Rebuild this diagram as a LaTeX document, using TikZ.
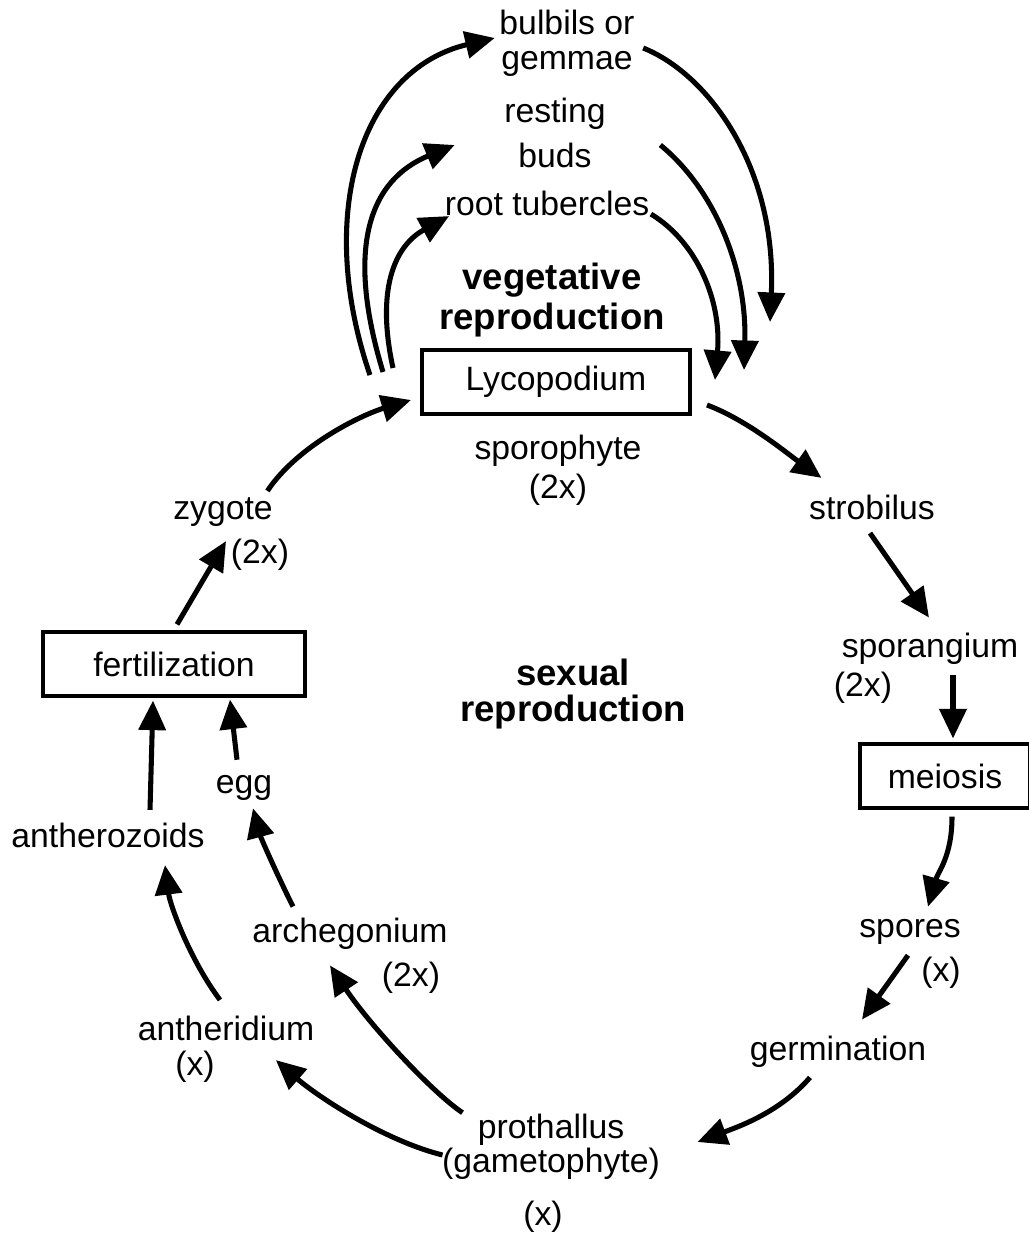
\documentclass[tikz,border=0pt]{standalone}
\usepackage{fontspec}
\setmainfont{Liberation Sans}
\usetikzlibrary{arrows.meta}

\tikzset{
  lbl/.style={inner sep=1pt, align=center, font=\fontsize{24}{28}\selectfont},
  heading/.style={inner sep=1pt, align=center, font=\bfseries\fontsize{26}{28}\selectfont},
  stagebox/.style={lbl, draw, line width=2.8pt, minimum height=1.58cm},
  cyc/.style={line width=3.6pt, -{Triangle[length=21pt,width=19pt]}},
}

\begin{document}
\begin{tikzpicture}[x=0.025cm,y=-0.025cm]
\useasboundingbox (0,0) rectangle (1029,1237);
%
\node[stagebox, minimum width=6.7cm] (lyco) at (556,382) {Lycopodium};
\node[lbl] (sporo) at (558,470) {sporophyte\\(2x)};
\node[lbl] (bulb) at (567,43) {bulbils or\\[-3pt]gemmae};
\node[lbl] (rest) at (555,133) {resting\\[4pt]buds};
\node[lbl] (root) at (547,203) {root tubercles};
\node[heading] (veg) at (552,300) {vegetative\\reproduction};
\node[heading] (sex) at (573,694) {sexual\\[-3pt]reproduction};
%
\node[lbl] (strob) at (872,507) {strobilus};
\node[lbl] (sporang) at (930,649) {sporangium};
\node[lbl] (sporangp) at (863,688) {(2x)};
\node[stagebox, minimum width=4.25cm] (meio) at (945,776) {meiosis};
\node[lbl] (spores) at (910,932) {spores};
\node[lbl] (sporesp) at (941,973) {(x)};
\node[lbl] (germ) at (838,1052) {germination};
\node[lbl] (proth) at (551,1147) {prothallus\\[-4pt](gametophyte)};
\node[lbl] (prothp) at (543,1217) {(x)};
\node[lbl] (anther) at (226,1028) {antheridium};
\node[lbl] (antherp) at (195,1067) {(x)};
\node[lbl] (archeg) at (350,934) {archegonium};
\node[lbl] (archegp) at (411,978) {(2x)};
\node[lbl] (antz) at (108,835) {antherozoids};
\node[lbl] (egg) at (244,788) {egg};
\node[stagebox, minimum width=6.55cm] (fert) at (174,664) {fertilization};
\node[lbl] (zyg) at (223,512) {zygote};
\node[lbl] (zygp) at (260,555) {(2x)};
%
% vegetative loops
\draw[cyc] ([shift={(-50,-7)}]lyco.west) .. controls +(-55,-160) and +(-135,32) .. ([shift={(-3,-5)}]bulb.west);
\draw[cyc] ([shift={(-37,-10)}]lyco.west) .. controls +(-38,-125) and +(-85,35) .. ([shift={(-48,12)}]rest.west);
\draw[cyc] ([shift={(-27,-14)}]lyco.west) .. controls +(-17,-78) and +(-55,30) .. ([shift={(6,-1)}]root.south west);
\draw[cyc] ([shift={(7,5)}]bulb.east) .. controls +(67,27) and +(7,-152) .. ([shift={(78,-60)}]lyco.east);
\draw[cyc] ([shift={(53,12)}]rest.east) .. controls +(55,45) and +(3,-100) .. ([shift={(52,-12)}]lyco.east);
\draw[cyc] ([shift={(0,-3)}]root.south east) .. controls +(45,27) and +(7,-80) .. ([shift={(23,-2)}]lyco.east);
%
% sexual cycle
\draw[cyc] ([shift={(15,23)}]lyco.east) .. controls +(40,15) and +(-35,-25) .. ([shift={(14,-15)}]strob.north west);
\draw[cyc] ([shift={(-2,12)}]strob.south) -- ([shift={(-1,-14)}]sporang.north);
\draw[cyc] ([shift={(23,9)}]sporang.south) -- ([shift={(8,-4)}]meio.north);
\draw[cyc] ([shift={(7,7)}]meio.south) .. controls +(0,40) and +(10,-35) .. ([shift={(18,-11)}]spores.north);
\draw[cyc] ([shift={(-2,9)}]spores.south) -- ([shift={(24,-15)}]germ.north);
\draw[cyc] ([shift={(-28,8)}]germ.south) .. controls +(-30,35) and +(40,-15) .. ([shift={(36,-5)}]proth.east);
\draw[cyc] ([shift={(22,0)}]proth.north west) .. controls +(-30,-20) and +(40,60) .. ([shift={(-20,14)}]archeg.south);
\draw[cyc] ([shift={(2,8)}]proth.west) .. controls +(-60,-15) and +(40,35) .. ([shift={(-40,18)}]anther.south east);
\draw[cyc] ([shift={(-6,-14)}]anther.north) .. controls +(-30,-40) and +(5,40) .. ([shift={(57,16)}]antz.south);
\draw[cyc] ([shift={(-57,-10)}]archeg.north) .. controls +(-15,-30) and +(8,30) .. ([shift={(9,6)}]egg.south);
\draw[cyc] ([shift={(-7,-14)}]egg.north) -- ([shift={(56,2)}]fert.south);
\draw[cyc] ([shift={(42,-11)}]antz.north) -- ([shift={(-21,3)}]fert.south);
\draw[cyc] ([shift={(3,-6)}]fert.north) -- ([shift={(3,13)}]zyg.south);
\draw[cyc] ([shift={(-7,-5)}]zyg.north east) .. controls +(30,-45) and +(-50,15) .. ([shift={(-9,18)}]lyco.west);
\end{tikzpicture}
\end{document}
